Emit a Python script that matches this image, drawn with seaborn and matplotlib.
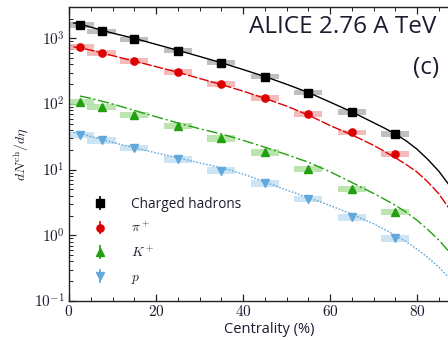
import numpy as np
import pandas as pd
import matplotlib
matplotlib.use("Agg")
import matplotlib.pyplot as plt
import seaborn as sns
from matplotlib.ticker import LogLocator, FixedLocator, MultipleLocator

# ---------------- data ----------------
centrality = [2.5, 7.5, 15, 25, 35, 45, 55, 65, 75]
charged = [1601, 1294, 966, 649, 426, 261, 149, 76, 35]
pion = [733, 606, 455, 307, 201, 124, 71, 37, 17.4]
kaon = [109, 91, 68, 46, 30, 18.3, 10.2, 5.1, 2.3]
proton = [34, 28, 21.5, 14.5, 9.7, 6.2, 3.6, 1.9, 0.9]

# model curves
x_model = [1, 2.5, 5, 10, 15, 20, 25, 30, 35, 40, 45, 50, 55, 60, 65, 70,
           72.5, 75, 77.5, 80, 82.5, 85, 87.5, 90]
charged_model = [1720, 1650, 1480, 1200, 1000, 810, 657, 530, 425, 335, 262, 200, 150, 107, 76, 52,
                 43, 35, 27.5, 20.5, 14.3, 9.5, 5.7, 3.3]
pion_model = [740, 720, 660, 545, 450, 370, 305, 245, 198, 157, 122, 93, 68, 47, 34, 23.5,
              19, 15.2, 12, 9.2, 6.5, 4.3, 2.5, 1.4]
kaon_model = [np.nan, 132, 122, 100, 80, 64, 51.5, 42, 35, 28, 22, 17, 13, 9.3, 6.4, 4.35,
              3.55, 2.87, 2.25, 1.7, 1.22, 0.85, 0.55, 0.33]
proton_model = [37, 36, 32, 26, 21.6, 18, 15.2, 12.7, 10.7, 8.6, 6.5, 4.9, 3.75, 2.85, 2.1, 1.5,
                1.23, 1.0, 0.8, 0.62, 0.46, 0.33, 0.22, 0.14]

labels = ["Charged hadrons", r"$\pi^+$", r"$K^+$", r"$p$"]
colors = ["#000000", "#dd0000", "#22a010", "#62a8da"]
box_colors = ["#b4b4b4", "#f4b0b0", "#b0e0a0", "#c4e0f2"]
markers = ["s", "o", "^", "v"]
msizes = [5.8, 5.2, 6.2, 6.2]
linestyles = ["-", (0, (7, 1.5)), (0, (8, 2, 1.5, 2)), (0, (1.2, 1.2))]
box_rel = [0.09, 0.10, 0.11, 0.12]

# ---------------- plot ----------------
sns.set_style("ticks")
plt.rcParams["font.family"] = ["Open Sans", "DejaVu Sans"]
plt.rcParams["mathtext.fontset"] = "cm"
text_color = "#1c1c30"

fig = plt.figure(figsize=(4.48, 3.40), dpi=100)
ax = fig.add_axes([69 / 448, 1 - 301 / 340, 92 * 4.35 / 448, (301 - 7) / 340])

data_sets = [charged, pion, kaon, proton]
models = [charged_model, pion_model, kaon_model, proton_model]

handles = []
for i in range(4):
    vals = np.array(data_sets[i], dtype=float)
    # systematic boxes
    lo = vals * (1 - box_rel[i])
    hi = vals * (1 + box_rel[i])
    ax.bar(centrality, hi - lo, bottom=lo, width=6.5, color=box_colors[i],
           edgecolor="none", zorder=1, alpha=0.85)
    # model curve
    dfm = pd.DataFrame({"x": x_model, "y": models[i]})
    sns.lineplot(data=dfm, x="x", y="y", ax=ax, color=colors[i], lw=1.0,
                 linestyle=linestyles[i], legend=False, zorder=2)
    # data points
    h = ax.errorbar(centrality, vals, yerr=np.zeros_like(vals), fmt=markers[i],
                    color=colors[i], ms=msizes[i], mec=colors[i], elinewidth=1.2,
                    capsize=0, zorder=3, label=labels[i])
    handles.append(h)

ax.set_yscale("log")
ax.set_xlim(0, 92)
ax.set_ylim(0.1, 3000)

ax.yaxis.set_major_locator(FixedLocator([0.1, 1, 10, 100, 1000]))
ax.set_yticklabels([r"$10^{-1}$", r"$10^{0}$", r"$10^{1}$", r"$10^{2}$", r"$10^{3}$"])
ax.yaxis.set_minor_locator(LogLocator(base=10, subs=np.arange(2, 10), numticks=20))
ax.xaxis.set_major_locator(FixedLocator([0, 20, 40, 60, 80]))
ax.set_xticklabels(["$0$", "$20$", "$40$", "$60$", "$80$"])
ax.xaxis.set_minor_locator(MultipleLocator(5))

ax.tick_params(which="both", direction="in", top=True, right=True, color="#222222")
ax.tick_params(which="major", length=5, width=0.9, labelsize=11, labelcolor=text_color, pad=3)
ax.tick_params(which="minor", length=3, width=0.7)
for s in ax.spines.values():
    s.set_linewidth(1.0)
    s.set_color("#222222")

ax.set_xlabel("Centrality (%)", fontsize=10.5, color=text_color, labelpad=1)
ax.set_ylabel(r"$dN^{\rm ch}/d\eta$", fontsize=10, color=text_color, labelpad=3)

ax.text(0.973, 0.92, "ALICE 2.76 A TeV", transform=fig.transFigure, ha="right",
        va="center", fontsize=17.5, color=text_color)
ax.text(0.98, 0.80, "(c)", transform=fig.transFigure, ha="right",
        va="center", fontsize=17.5, color=text_color)

leg = ax.legend(handles=handles, labels=labels, loc="lower left",
                bbox_to_anchor=(0.03, 0.01), frameon=False, fontsize=9.8,
                handlelength=1.0, handletextpad=1.8, labelspacing=0.68,
                borderaxespad=0.5)
for t in leg.get_texts():
    t.set_color(text_color)

fig.savefig("out.png", dpi=100)
